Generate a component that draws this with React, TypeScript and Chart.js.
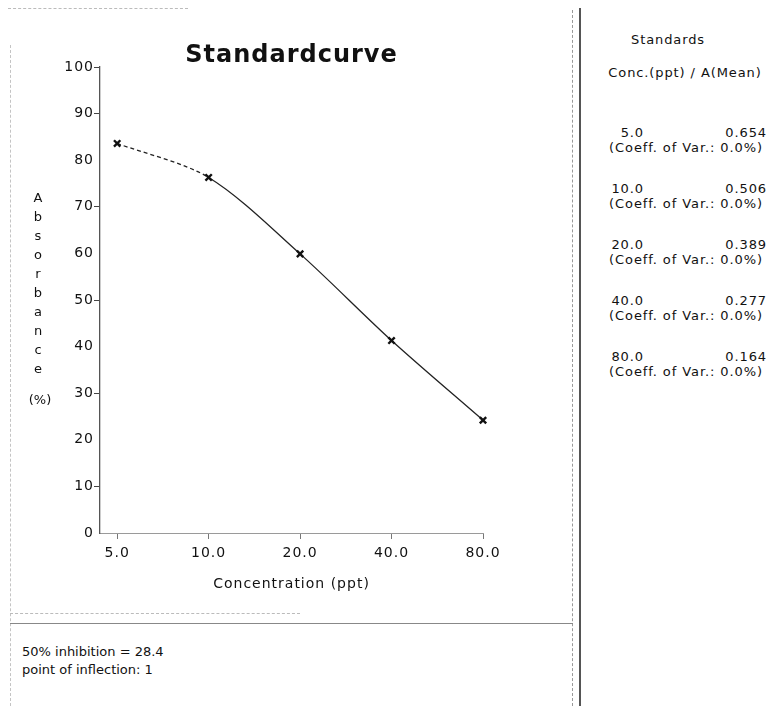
import React, { useEffect, useRef } from 'react';
import { Chart, registerables } from 'chart.js';

Chart.register(...registerables);

// ---- data ----
const concentrations = [5, 10, 20, 40, 80];
const absorbancePct = [83.6, 76.3, 59.9, 41.3, 24.2];
const meanAbsorbance = ['0.654', '0.506', '0.389', '0.277', '0.164'];
const coeffOfVar = ['0.0', '0.0', '0.0', '0.0', '0.0'];
const yMin = 0;
const yMax = 100;
const yStep = 10;
const chartTitle = 'Standardcurve';
const xTitle = 'Concentration (ppt)';
const yTitleWord = 'Absorbance';
const yTitleUnit = '(%)';
const panelTitle = 'Standards';
const panelHeader = 'Conc.(ppt) / A(Mean)';
const inhibition50 = '28.4';
const inflectionPoint = '1';

const INK = '#111';
const FONT = "'DejaVu Sans', sans-serif";

const letterSpacingPlugin = {
  id: 'letterSpacing',
  beforeUpdate(chart: any) {
    chart.ctx.letterSpacing = '1px';
  },
  beforeDraw(chart: any) {
    chart.ctx.letterSpacing = '1px';
  },
};

function StandardCurve() {
  const ref = useRef<HTMLCanvasElement | null>(null);
  useEffect(() => {
    if (!ref.current) return;
    const chart = new Chart(ref.current, {
      type: 'line',
      data: {
        datasets: [
          {
            data: concentrations.map((c, i) => ({ x: c, y: absorbancePct[i] })),
            borderColor: '#222',
            borderWidth: 1.3,
            tension: 0.3,
            pointStyle: 'crossRot',
            pointRadius: 4.5,
            pointBorderWidth: 2.4,
            pointBorderColor: '#111',
            pointBackgroundColor: '#111',
            clip: false as any,
            segment: {
              borderDash: (ctx: any) => (ctx.p0DataIndex === 0 ? [4, 3] : undefined),
            },
          } as any,
        ],
      },
      options: {
        animation: false,
        responsive: true,
        maintainAspectRatio: false,
        layout: { padding: { top: 0, left: 60, right: 90, bottom: 9 } },
        plugins: {
          legend: { display: false },
          tooltip: { enabled: false },
          title: {
            display: true,
            text: chartTitle,
            fullSize: false,
            color: INK,
            font: { family: FONT, size: 24, weight: 'bold' },
            padding: { top: 41.6, bottom: -3.4 },
          },
        },
        scales: {
          x: {
            type: 'logarithmic',
            min: 4.39,
            max: 80,
            afterBuildTicks: (axis: any) => {
              axis.ticks = concentrations.map((v) => ({ value: v }));
            },
            afterFit: (s: any) => {
              s.height = 70;
            },
            ticks: {
              callback: (v: any) => Number(v).toFixed(1),
              autoSkip: false,
              maxRotation: 0,
              padding: 6,
              color: INK,
              font: { family: FONT, size: 14 },
            },
            grid: { drawOnChartArea: false, drawTicks: true, tickLength: 6, color: '#777' },
            border: { color: '#9a9a9a', dash: [14, 9], width: 1 },
            title: {
              display: true,
              text: xTitle,
              color: INK,
              font: { family: FONT, size: 14 },
              padding: { top: 0, bottom: 10 },
            },
          },
          y: {
            type: 'linear',
            min: yMin,
            max: yMax,
            afterFit: (s: any) => {
              s.width = 40;
            },
            ticks: {
              stepSize: yStep,
              padding: 0,
              color: INK,
              font: { family: FONT, size: 14 },
            },
            grid: {
              drawOnChartArea: false,
              drawTicks: true,
              tickLength: 6,
              color: (ctx: any) =>
                ctx.tick && (ctx.tick.value === yMax || (ctx.tick.value / yStep) % 2 === 1)
                  ? '#444'
                  : 'rgba(0,0,0,0)',
            },
            border: { color: '#555', width: 1.3 },
          },
        },
      } as any,
      plugins: [letterSpacingPlugin],
    });
    return () => chart.destroy();
  }, []);
  return (
    <div style={{ position: 'absolute', left: 0, top: 0, width: 573, height: 612 }}>
      <canvas ref={ref} />
    </div>
  );
}

export default function App() {
  const abs = (o: React.CSSProperties): React.CSSProperties => ({ position: 'absolute', ...o });
  return (
    <div
      style={{
        position: 'absolute',
        left: 0,
        top: 0,
        width: 769,
        height: 706,
        overflow: 'hidden',
        background: '#fff',
        fontFamily: FONT,
        color: INK,
      }}
    >
      {/* frame lines */}
      <div style={abs({ left: 8, top: 8, width: 180, height: 0, borderTop: '1.5px dashed #bbb' })} />
      <div style={abs({ left: 10, top: 45, width: 0, height: 661, borderLeft: '1px dashed #c4c4c4' })} />
      <div style={abs({ left: 572, top: 10, width: 0, height: 696, borderLeft: '1px dashed #999' })} />
      <div style={abs({ left: 579, top: 8, width: 0, height: 698, borderLeft: '2px solid #555' })} />
      <div style={abs({ left: 10, top: 613, width: 290, height: 0, borderTop: '1px dashed #bbb' })} />
      <div style={abs({ left: 10, top: 623, width: 563, height: 0, borderTop: '1.5px solid #888' })} />

      <StandardCurve />

      {/* y-axis title, stacked letters */}
      <div
        style={abs({
          left: 26,
          top: 188,
          width: 24,
          textAlign: 'center',
          fontSize: 13,
          lineHeight: '19px',
        })}
      >
        {yTitleWord.split('').map((ch, i) => (
          <div key={i}>{ch}</div>
        ))}
      </div>
      <div style={abs({ left: 20, top: 392, width: 40, textAlign: 'center', fontSize: 13 })}>
        {yTitleUnit}
      </div>

      {/* right panel */}
      <div
        style={abs({ left: 598, top: 32, width: 140, textAlign: 'center', fontSize: 13, letterSpacing: '0.9px' })}
      >
        {panelTitle}
      </div>
      <div
        style={abs({ left: 600, top: 65, width: 170, textAlign: 'center', fontSize: 13, letterSpacing: '0.9px', whiteSpace: 'nowrap' })}
      >
        {panelHeader}
      </div>
      {concentrations.map((c, i) => {
        const top = 125 + i * 56;
        return (
          <div key={i}>
            <div
              style={abs({ left: 590, top, width: 54, textAlign: 'right', fontSize: 13, letterSpacing: '0.9px' })}
            >
              {c.toFixed(1)}
            </div>
            <div
              style={abs({ left: 700, top, width: 67, textAlign: 'right', fontSize: 13, letterSpacing: '0.9px' })}
            >
              {meanAbsorbance[i]}
            </div>
            <div
              style={abs({
                left: 596,
                top: top + 15,
                width: 180,
                textAlign: 'center',
                fontSize: 13,
                letterSpacing: '0.9px',
                whiteSpace: 'nowrap',
              })}
            >
              (Coeff. of Var.: {coeffOfVar[i]}%)
            </div>
          </div>
        );
      })}

      {/* bottom box */}
      <div style={abs({ left: 22, top: 643, fontSize: 13, lineHeight: '18px', whiteSpace: 'nowrap' })}>
        <div>50% inhibition = {inhibition50}</div>
        <div>point of inflection: {inflectionPoint}</div>
      </div>
    </div>
  );
}
